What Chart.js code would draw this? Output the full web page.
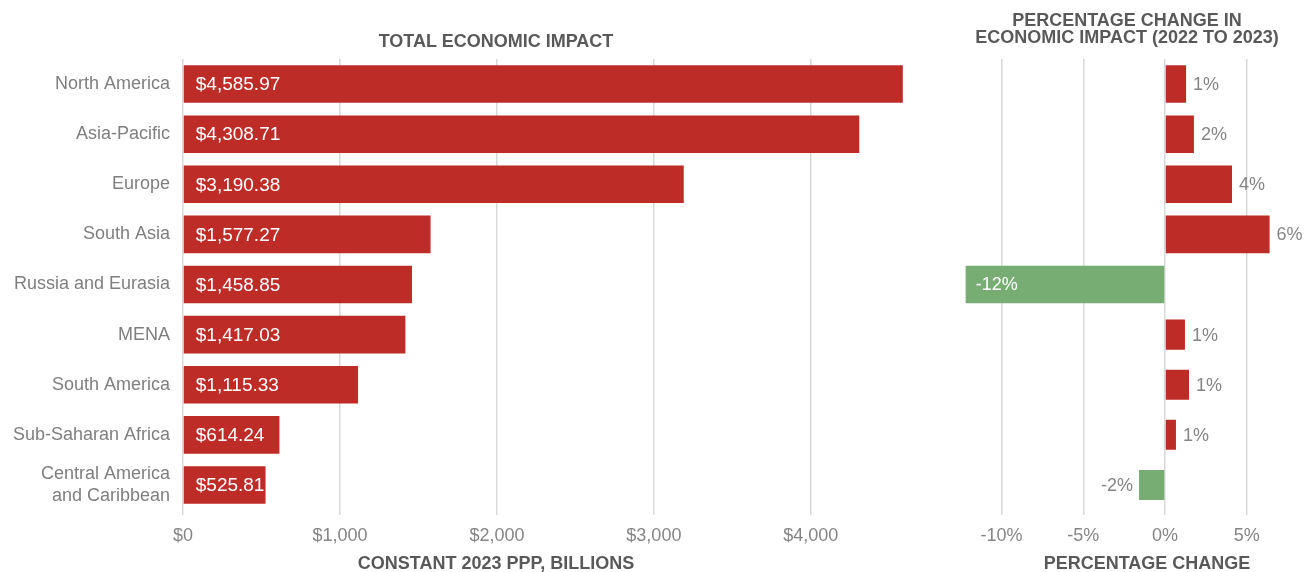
<!DOCTYPE html>
<html lang="en">

<head>
    <meta charset="UTF-8">
    <title>Economic Impact by Region</title>
    <script src="https://cdn.jsdelivr.net/npm/chart.js"></script>
    <style>
        body {
            margin: 0;
            background: #fff;
            font-family: "Liberation Sans", Arial, sans-serif;
        }
        .wrap {
            position: relative;
            width: 1311px;
            height: 572px;
            overflow: hidden;
        }
        .wrap canvas {
            position: absolute;
            top: 0;
        }
        .title {
            position: absolute;
            font-size: 18px;
            font-weight: bold;
            color: #595959;
            line-height: 17px;
            text-align: center;
            white-space: nowrap;
            transform: translateX(-50%);
        }
    </style>
</head>

<body>
    <div class="wrap">
        <canvas id="totalChart" width="930" height="572" style="left:0"></canvas>
        <canvas id="pctChart" width="381" height="572" style="left:930px"></canvas>

        <div class="title" style="left:496px; top:33px;">TOTAL ECONOMIC IMPACT</div>
        <div class="title" style="left:496px; top:555px;">CONSTANT 2023 PPP, BILLIONS</div>
        <div class="title" style="left:1127px; top:12px;">PERCENTAGE CHANGE IN<br>ECONOMIC IMPACT (2022 TO 2023)</div>
        <div class="title" style="left:1147px; top:555px;">PERCENTAGE CHANGE</div>
    </div>

    <script>
        // data
        const regions = ['North America', 'Asia-Pacific', 'Europe', 'South Asia', 'Russia and Eurasia',
            'MENA', 'South America', 'Sub-Saharan Africa', ['Central America', 'and Caribbean']];
        const totalImpact = [4585.97, 4308.71, 3190.38, 1577.27, 1458.85, 1417.03, 1115.33, 614.24, 525.81];
        const pctChange = [1.29, 1.77, 4.1, 6.4, -12.2, 1.22, 1.47, 0.67, -1.59];
        const totalTicks = [0, 1000, 2000, 3000, 4000];
        const pctTicks = [-10, -5, 0, 5];

        const RED = '#bd2c26';
        const GREEN = '#77ad72';
        const GRID = '#d9d9d9';
        const GREY = '#858585';

        Chart.defaults.font.family = '"Liberation Sans", Arial, sans-serif';
        Chart.defaults.font.size = 18;
        Chart.defaults.color = GREY;

        // bar value labels
        const barLabels = {
            id: 'barLabels',
            afterDatasetsDraw(chart, args, opts) {
                const ctx = chart.ctx;
                ctx.save();
                ctx.textBaseline = 'middle';
                chart.data.datasets.forEach((ds, di) => {
                    chart.getDatasetMeta(di).data.forEach((bar, i) => {
                        const v = ds.data[i];
                        if (v === null || v === undefined) return;
                        const left = Math.min(bar.x, bar.base);
                        const right = Math.max(bar.x, bar.base);
                        if (opts.money) {
                            ctx.font = '19px "Liberation Sans", Arial, sans-serif';
                            ctx.fillStyle = '#fff';
                            ctx.textAlign = 'left';
                            ctx.fillText('$' + v.toLocaleString('en-US', { minimumFractionDigits: 2 }), left + 12, bar.y + 1);
                        } else {
                            ctx.font = '18px "Liberation Sans", Arial, sans-serif';
                            const txt = Math.round(v) + '%';
                            if (right - left > 150) {
                                ctx.fillStyle = '#fff';
                                ctx.textAlign = 'left';
                                ctx.fillText(txt, left + 10, bar.y + 1);
                            } else if (v >= 0) {
                                ctx.fillStyle = GREY;
                                ctx.textAlign = 'left';
                                ctx.fillText(txt, right + 7, bar.y + 1);
                            } else {
                                ctx.fillStyle = GREY;
                                ctx.textAlign = 'right';
                                ctx.fillText(txt, left - 6, bar.y + 1);
                            }
                        }
                    });
                });
                ctx.restore();
            }
        };

        // use exactly the tick values from the picture
        function useTicks(list) {
            return axis => {
                axis.ticks = list.map(v => ({ value: v }));
            };
        }

        // Left chart
        new Chart(document.getElementById('totalChart'), {
            type: 'bar',
            data: {
                labels: regions,
                datasets: [{
                    data: totalImpact,
                    backgroundColor: RED,
                    barPercentage: 0.75,
                    categoryPercentage: 1
                }]
            },
            options: {
                indexAxis: 'y',
                responsive: false,
                animation: false,
                layout: { padding: { top: 59, right: 25, left: 0, bottom: 0 } },
                plugins: {
                    legend: { display: false },
                    tooltip: { enabled: false },
                    barLabels: { money: true }
                },
                scales: {
                    x: {
                        min: 0,
                        max: 4600,
                        afterBuildTicks: useTicks(totalTicks),
                        afterFit: s => { s.height = 62; },
                        grid: { color: GRID, lineWidth: 1.5, tickLength: 5 },
                        border: { display: false },
                        ticks: {
                            autoSkip: false,
                            padding: 10,
                            color: GREY,
                            callback: v => '$' + v.toLocaleString('en-US')
                        }
                    },
                    y: {
                        afterFit: s => { s.width = 183; },
                        grid: { display: false },
                        border: { display: false },
                        ticks: { padding: 5, color: '#7f7f7f' }
                    }
                }
            },
            plugins: [barLabels]
        });

        // Right chart (lower rows are drawn a bit thinner in the reference)
        const thinFrom = 5;
        new Chart(document.getElementById('pctChart'), {
            type: 'bar',
            data: {
                labels: regions,
                datasets: [{
                    data: pctChange.map((v, i) => i < thinFrom ? v : null),
                    backgroundColor: c => c.raw < 0 ? GREEN : RED,
                    barPercentage: 0.75,
                    categoryPercentage: 1,
                    grouped: false
                }, {
                    data: pctChange.map((v, i) => i >= thinFrom ? v : null),
                    backgroundColor: c => c.raw < 0 ? GREEN : RED,
                    barPercentage: 0.6,
                    categoryPercentage: 1,
                    grouped: false
                }]
            },
            options: {
                indexAxis: 'y',
                responsive: false,
                animation: false,
                layout: { padding: { top: 59, right: 31.6, left: 30.75, bottom: 0 } },
                plugins: {
                    legend: { display: false },
                    tooltip: { enabled: false },
                    barLabels: { money: false }
                },
                scales: {
                    x: {
                        min: -12.5,
                        max: 7,
                        afterBuildTicks: useTicks(pctTicks),
                        afterFit: s => { s.height = 62; },
                        grid: { color: GRID, lineWidth: 1.5, tickLength: 5 },
                        border: { display: false },
                        ticks: {
                            autoSkip: false,
                            padding: 10,
                            color: GREY,
                            callback: v => v + '%'
                        }
                    },
                    y: { display: false }
                }
            },
            plugins: [barLabels]
        });
    </script>
</body>

</html>
